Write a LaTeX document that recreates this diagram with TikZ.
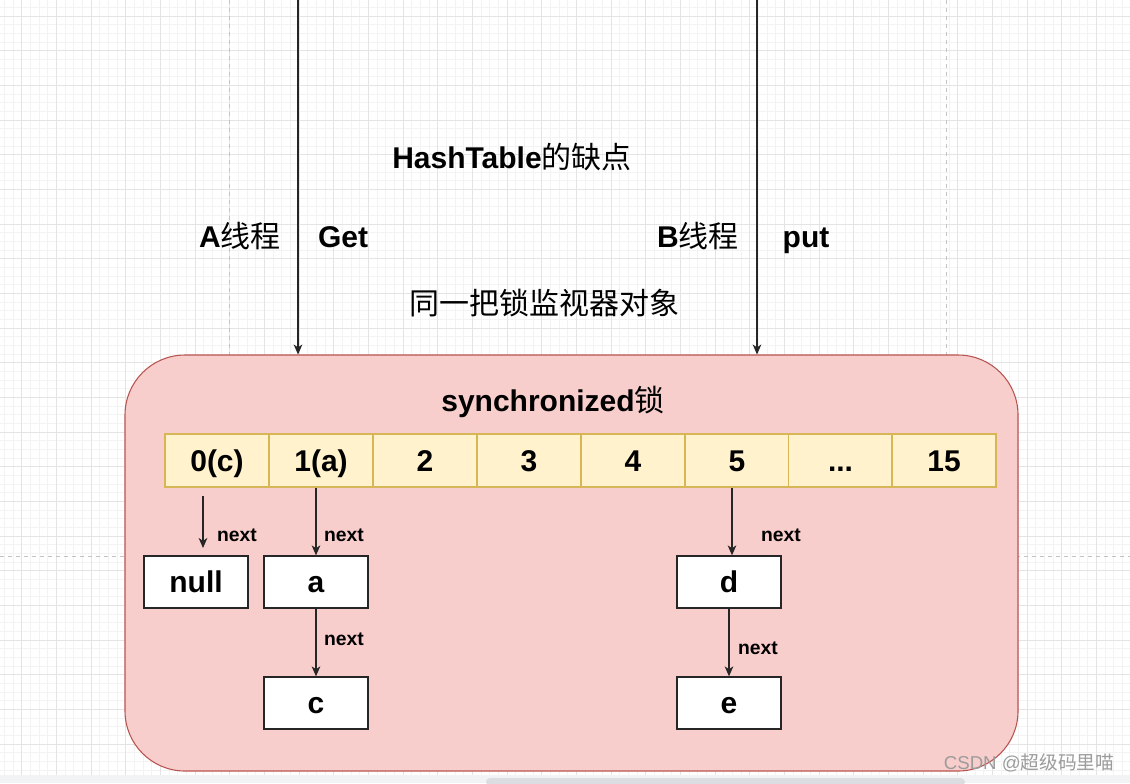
\documentclass[tikz,border=0pt]{standalone}
\usepackage{fontspec}
\setmainfont{Liberation Sans}
\newfontfamily\cjk{Noto Sans CJK SC}
\usetikzlibrary{arrows.meta}
\definecolor{boxfill}{HTML}{F8CECC}
\definecolor{boxline}{HTML}{B85450}
\definecolor{cellfill}{HTML}{FFF2CC}
\definecolor{cellline}{HTML}{D6B656}
\definecolor{gridminor}{HTML}{F3F3F3}
\definecolor{gridmajor}{HTML}{E4E4E4}
\definecolor{pagedash}{HTML}{C4C4C4}
\definecolor{wmark}{HTML}{9C9C9C}
\definecolor{barbg}{HTML}{F2F3F5}
\definecolor{barthumb}{HTML}{DCDDE0}
\tikzset{
  big/.style={font=\fontsize{22.5}{27}\selectfont\bfseries, text height=20.25pt, text depth=4.5pt},
  small/.style={font=\fontsize{14.5}{17}\selectfont\bfseries, text height=13pt, text depth=2.9pt},
  cell/.style={draw=cellline, fill=cellfill, line width=0.9pt, minimum width=78pt, minimum height=39.75pt, inner sep=0pt, big},
  item/.style={draw=black!85, fill=white, line width=1pt, minimum width=78pt, minimum height=39pt, inner sep=0pt, big},
  arr/.style={draw=black!85, line width=0.8pt, -{Stealth[length=7.5pt,width=6.5pt,inset=2.2pt]}},
  lbl/.style={inner sep=0pt, big},
}
\begin{document}
\begin{tikzpicture}[x=0.75pt,y=-0.75pt]
\useasboundingbox (0,0) rectangle (1130,783);
\fill[white] (0,0) rectangle (1130,783);
% grid
\foreach \i in {0,...,130} {
  \draw[gridminor, line width=0.5pt] ({4.37+8.667*\i},0) -- ({4.37+8.667*\i},775);
}
\foreach \i in {0,...,90} {
  \draw[gridminor, line width=0.5pt] (0,{7.33+8.667*\i}) -- (1130,{7.33+8.667*\i});
}
\foreach \i in {0,...,32} {
  \draw[gridmajor, line width=0.6pt] ({21.7+34.667*\i},0) -- ({21.7+34.667*\i},775);
}
\foreach \i in {0,...,22} {
  \draw[gridmajor, line width=0.6pt] (0,{16+34.667*\i}) -- (1130,{16+34.667*\i});
}
% page break lines
\draw[pagedash, dashed, line width=0.6pt] (229.5,0) -- (229.5,775);
\draw[pagedash, dashed, line width=0.6pt] (946,0) -- (946,775);
\draw[pagedash, dashed, line width=0.6pt] (0,556.5) -- (1130,556.5);
% bottom bar
\fill[barbg] (0,775) rectangle (1130,783);
\fill[barthumb, rounded corners=3pt] (486,778) rectangle (965,786);

% big lock box
\node[draw=boxline, fill=boxfill, line width=0.8pt, rounded corners=45pt,
      minimum width=669.75pt, minimum height=312pt, inner sep=0pt] (lock) at (571.5,563) {};

% titles
\node[lbl] (title) at (512,158) {HashTable{\mdseries\cjk 的缺点}};
\node[lbl] (athr) at (240,237) {A{\mdseries\cjk 线程}};
\node[lbl] (aget) at (343,237) {Get};
\node[lbl] (bthr) at (698,237) {B{\mdseries\cjk 线程}};
\node[lbl] (bput) at (806,237) {put};
\node[lbl, font=\fontsize{22.5}{27}\selectfont\cjk] (same) at (544,304) {同一把锁监视器对象};
\node[lbl] (sync) at (553,401) {synchronized{\mdseries\cjk 锁}};

% thread arrows
\coordinate (atop) at (298,-2);
\coordinate (btop) at (757,-2);
\draw[arr] (atop) -- (atop |- lock.north);
\draw[arr] (btop) -- (btop |- lock.north);

% array
\node[cell] (c0) at (217,460.5) {0(c)};
\node[cell] (c1) at (321,460.5) {1(a)};
\node[cell] (c2) at (425,460.5) {2};
\node[cell] (c3) at (529,460.5) {3};
\node[cell] (c4) at (633,460.5) {4};
\node[cell] (c5) at (737,460.5) {5};
\node[cell] (c6) at (840.5,460.5) {...};
\node[cell] (c7) at (944,460.5) {15};

% list nodes
\node[item] (null) at (196,582) {null};
\node[item] (a) at (316,582) {a};
\node[item] (c) at (316,703) {c};
\node[item] (d) at (729,582) {d};
\node[item] (e) at (729,703) {e};

% next arrows
\coordinate (n0s) at (203,496);
\coordinate (n0e) at (203,548);
\draw[arr] (n0s) -- (n0e);
\draw[arr] (c1.south -| a.north) -- (a.north);
\draw[arr] (a.south) -- (c.north);
\draw[arr] ([xshift=2.25pt]c5.south -| d.north) -- ([xshift=2.25pt]d.north);
\draw[arr] (d.south) -- (e.north);

\node[small, inner sep=0pt] (l0) at (237,535) {next};
\node[small, inner sep=0pt] (l1) at (344,535) {next};
\node[small, inner sep=0pt] (l2) at (344,639) {next};
\node[small, inner sep=0pt] (l3) at (781,535) {next};
\node[small, inner sep=0pt] (l4) at (758,648) {next};

% watermark
\node[text=wmark, inner sep=0pt, font=\fontsize{14}{16}\selectfont] (wm) at (1029,763) {CSDN @{\cjk 超级码里喵}};
\end{tikzpicture}
\end{document}
